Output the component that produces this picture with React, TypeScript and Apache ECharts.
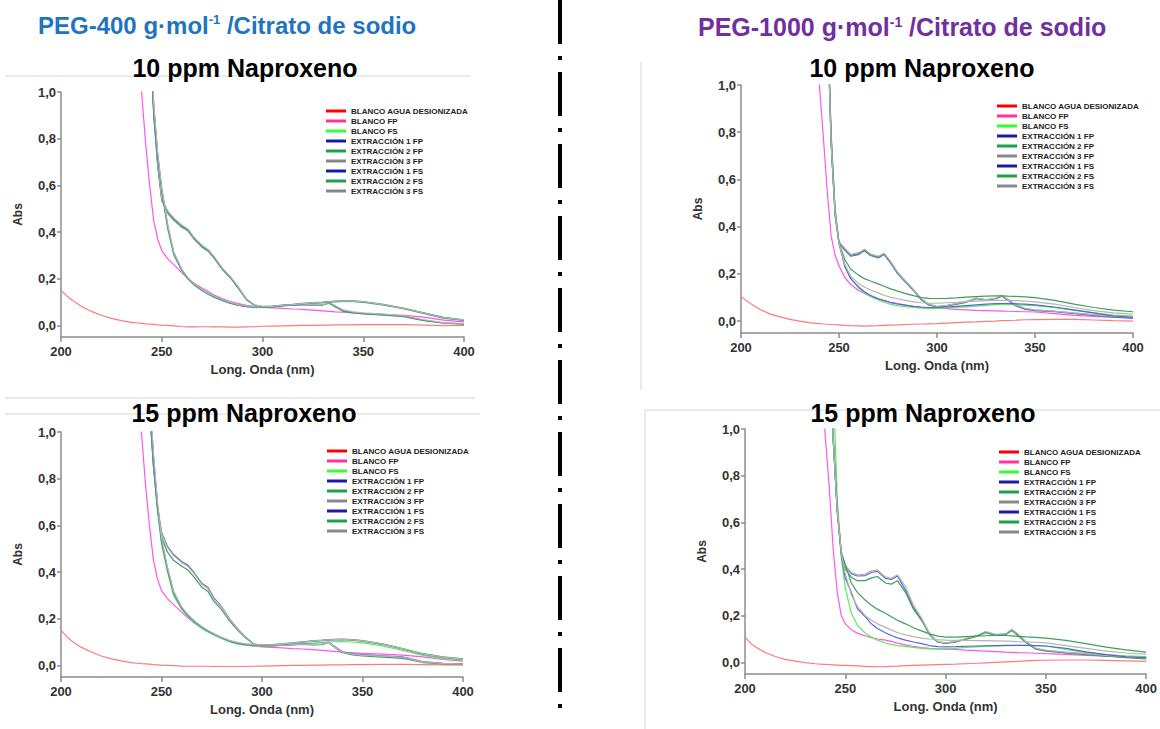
import React, { useEffect, useRef } from 'react';
import * as echarts from 'echarts';

const N = null;

const WAVELENGTH_NM = [200, 203, 206, 210, 215, 220, 225, 230, 235, 238,
  240, 242, 244, 246, 248, 250, 253, 256, 260, 263,
  266, 270, 273, 276, 280, 284, 288, 292, 296, 300,
  305, 310, 315, 320, 325, 330, 333, 336, 340, 345,
  350, 360, 370, 380, 390, 400];

const Y_TICKS = [0, 0.2, 0.4, 0.6, 0.8, 1.0];

const SERIES_NAMES = ['BLANCO AGUA DESIONIZADA', 'BLANCO FP', 'BLANCO FS',
  'EXTRACCIÓN 1 FP', 'EXTRACCIÓN 2 FP', 'EXTRACCIÓN 3 FP',
  'EXTRACCIÓN 1 FS', 'EXTRACCIÓN 2 FS', 'EXTRACCIÓN 3 FS'];
const LEGEND_COLORS = ['#ff0000', '#ff3399', '#33ff33', '#1a1aa8', '#1ba04b', '#888888', '#1a1aa8', '#1ba04b', '#888888'];
const LINE_COLORS = ['#ff7a7a', '#ff55ee', '#55ee55', '#5a63d8', '#3f9f5a', '#b4b4b4', '#5a63d8', '#3f9f5a', '#b4b4b4'];

// ---------- PEG-400, 10 ppm ----------
const A_AGUA = [0.15, 0.125, 0.105, 0.082, 0.06, 0.043, 0.03, 0.02, 0.013, 0.01,
  0.008, 0.006, 0.005, 0.004, 0.002, 0.001, 0, -0.002, -0.005, -0.007,
  -0.007, -0.006, -0.006, -0.007, -0.007, -0.008, -0.008, -0.007, -0.006, -0.004,
  -0.003, -0.002, -0.001, 0, 0, 0.001, 0.001, 0.002, 0.002, 0.002,
  0.003, 0.003, 0.003, 0.001, -0.001, 0];
const A_BFP = [N, N, N, N, N, N, N, N, N, 1.2,
  1.0, 0.78, 0.6, 0.45, 0.37, 0.32, 0.285, 0.26, 0.225, 0.2,
  0.18, 0.16, 0.145, 0.13, 0.115, 0.102, 0.093, 0.086, 0.08, 0.077,
  0.075, 0.073, 0.07, 0.068, 0.065, 0.062, 0.06, 0.058, 0.056, 0.053,
  0.05, 0.047, 0.043, 0.035, 0.022, 0.015];
const A_BFS = [N, N, N, N, N, N, N, N, N, N,
  N, N, 1.3, 0.93, 0.73, 0.57, 0.41, 0.3, 0.232, 0.198,
  0.172, 0.148, 0.132, 0.12, 0.106, 0.094, 0.085, 0.08, 0.077, 0.076,
  0.078, 0.082, 0.086, 0.09, 0.093, 0.096, 0.098, 0.1, 0.102, 0.101,
  0.098, 0.086, 0.07, 0.05, 0.03, 0.02];
const A_E1FP = [N, N, N, N, N, N, N, N, N, N,
  N, N, 1.3, 0.9, 0.68, 0.54, 0.485, 0.455, 0.425, 0.41,
  0.375, 0.34, 0.322, 0.292, 0.243, 0.207, 0.162, 0.112, 0.087, 0.08,
  0.08, 0.085, 0.088, 0.09, 0.087, 0.088, 0.097, 0.083, 0.063, 0.056,
  0.051, 0.046, 0.039, 0.022, 0.01, 0.006];
const A_E2FP = [N, N, N, N, N, N, N, N, N, N,
  N, N, 1.3, 0.92, 0.69, 0.535, 0.48, 0.45, 0.42, 0.405,
  0.37, 0.335, 0.318, 0.288, 0.24, 0.204, 0.158, 0.11, 0.086, 0.079,
  0.079, 0.084, 0.087, 0.089, 0.086, 0.087, 0.095, 0.08, 0.06, 0.053,
  0.049, 0.044, 0.037, 0.02, 0.009, 0.005];
const A_E3FP = [N, N, N, N, N, N, N, N, N, N,
  N, N, 1.35, 0.95, 0.7, 0.545, 0.49, 0.46, 0.43, 0.413,
  0.378, 0.343, 0.325, 0.295, 0.246, 0.21, 0.165, 0.114, 0.088, 0.081,
  0.081, 0.086, 0.089, 0.091, 0.088, 0.089, 0.098, 0.085, 0.066, 0.058,
  0.053, 0.048, 0.041, 0.024, 0.012, 0.007];
const A_E1FS = [N, N, N, N, N, N, N, N, N, N,
  N, N, 1.25, 0.92, 0.72, 0.58, 0.42, 0.305, 0.236, 0.2,
  0.175, 0.15, 0.135, 0.122, 0.108, 0.095, 0.086, 0.08, 0.078, 0.078,
  0.08, 0.085, 0.088, 0.092, 0.095, 0.098, 0.1, 0.102, 0.104, 0.103,
  0.1, 0.088, 0.072, 0.052, 0.032, 0.022];
const A_E2FS = [N, N, N, N, N, N, N, N, N, N,
  N, N, 1.28, 0.94, 0.73, 0.585, 0.425, 0.31, 0.238, 0.202,
  0.177, 0.152, 0.137, 0.124, 0.11, 0.097, 0.088, 0.082, 0.08, 0.08,
  0.082, 0.087, 0.09, 0.094, 0.097, 0.1, 0.102, 0.104, 0.106, 0.105,
  0.102, 0.09, 0.074, 0.054, 0.034, 0.024];
const A_E3FS = [N, N, N, N, N, N, N, N, N, N,
  N, N, 1.3, 0.95, 0.74, 0.59, 0.43, 0.312, 0.24, 0.204,
  0.178, 0.153, 0.138, 0.125, 0.111, 0.098, 0.089, 0.083, 0.08, 0.079,
  0.081, 0.086, 0.089, 0.093, 0.096, 0.099, 0.101, 0.103, 0.105, 0.104,
  0.101, 0.089, 0.073, 0.053, 0.033, 0.023];

// ---------- PEG-1000, 10 ppm ----------
const B_AGUA = [0.105, 0.085, 0.068, 0.048, 0.03, 0.018, 0.008, 0.0, -0.006, -0.009,
  -0.01, -0.012, -0.013, -0.014, -0.015, -0.016, -0.018, -0.019, -0.02, -0.021,
  -0.02, -0.019, -0.018, -0.017, -0.016, -0.014, -0.013, -0.012, -0.011, -0.01,
  -0.008, -0.006, -0.004, -0.003, -0.001, 0.0, 0.002, 0.003, 0.004, 0.006,
  0.007, 0.008, 0.008, 0.005, 0.002, 0.0];
const B_BFP = [N, N, N, N, N, N, N, N, N, 1.3,
  1.0, 0.78, 0.55, 0.36, 0.28, 0.235, 0.185, 0.155, 0.13, 0.117,
  0.106, 0.095, 0.087, 0.08, 0.073, 0.067, 0.062, 0.059, 0.057, 0.055,
  0.053, 0.05, 0.048, 0.046, 0.045, 0.044, 0.043, 0.042, 0.041, 0.04,
  0.039, 0.032, 0.025, 0.02, 0.016, 0.013];
const B_BFS = [N, N, N, N, N, N, N, N, N, N,
  N, N, 1.3, 0.8, 0.48, 0.33, 0.24, 0.18, 0.14, 0.12,
  0.105, 0.09, 0.08, 0.072, 0.066, 0.062, 0.058, 0.055, 0.054, 0.054,
  0.056, 0.058, 0.061, 0.064, 0.067, 0.07, 0.071, 0.071, 0.07, 0.068,
  0.066, 0.057, 0.046, 0.035, 0.026, 0.022];
const B_E1FP = [N, N, N, N, N, N, N, N, N, N,
  N, N, 1.3, 0.75, 0.45, 0.33, 0.3, 0.275, 0.282, 0.298,
  0.278, 0.268, 0.282, 0.25, 0.2, 0.165, 0.13, 0.09, 0.068, 0.06,
  0.064, 0.072, 0.08, 0.095, 0.088, 0.095, 0.106, 0.09, 0.066, 0.05,
  0.045, 0.04, 0.032, 0.025, 0.018, 0.013];
const B_E2FP = [N, N, N, N, N, N, N, N, N, N,
  N, N, 1.32, 0.76, 0.455, 0.335, 0.305, 0.28, 0.286, 0.302,
  0.282, 0.272, 0.285, 0.254, 0.204, 0.168, 0.133, 0.093, 0.07, 0.062,
  0.066, 0.074, 0.082, 0.097, 0.09, 0.097, 0.108, 0.093, 0.069, 0.053,
  0.047, 0.042, 0.034, 0.027, 0.02, 0.015];
const B_E3FP = [N, N, N, N, N, N, N, N, N, N,
  N, N, 1.35, 0.78, 0.46, 0.338, 0.308, 0.283, 0.29, 0.305,
  0.285, 0.275, 0.288, 0.257, 0.207, 0.17, 0.135, 0.095, 0.072, 0.063,
  0.067, 0.075, 0.083, 0.098, 0.091, 0.098, 0.109, 0.094, 0.07, 0.054,
  0.048, 0.043, 0.035, 0.028, 0.021, 0.016];
const B_E1FS = [N, N, N, N, N, N, N, N, N, N,
  N, N, 1.3, 0.78, 0.47, 0.33, 0.23, 0.18, 0.145, 0.125,
  0.11, 0.095, 0.087, 0.08, 0.073, 0.068, 0.063, 0.06, 0.058, 0.058,
  0.06, 0.063, 0.066, 0.069, 0.072, 0.074, 0.075, 0.075, 0.074, 0.072,
  0.069, 0.06, 0.048, 0.035, 0.022, 0.016];
const B_E2FS = [N, N, N, N, N, N, N, N, N, N,
  N, N, 1.3, 0.75, 0.45, 0.33, 0.26, 0.22, 0.195, 0.18,
  0.17, 0.158, 0.148, 0.138, 0.127, 0.117, 0.108, 0.1, 0.097, 0.096,
  0.097, 0.099, 0.102, 0.104, 0.106, 0.107, 0.107, 0.106, 0.105, 0.103,
  0.1, 0.088, 0.072, 0.058, 0.047, 0.04];
const B_E3FS = [N, N, N, N, N, N, N, N, N, N,
  N, N, 1.3, 0.76, 0.46, 0.33, 0.24, 0.19, 0.16, 0.145,
  0.132, 0.12, 0.11, 0.102, 0.095, 0.088, 0.082, 0.078, 0.076, 0.076,
  0.078, 0.08, 0.083, 0.085, 0.087, 0.088, 0.088, 0.088, 0.087, 0.085,
  0.082, 0.072, 0.058, 0.045, 0.035, 0.03];

// ---------- PEG-400, 15 ppm ----------
const C_AGUA = [0.15, 0.122, 0.1, 0.078, 0.057, 0.04, 0.028, 0.019, 0.012, 0.009,
  0.007, 0.006, 0.005, 0.003, 0.002, 0.001, 0, -0.001, -0.003, -0.004,
  -0.004, -0.004, -0.004, -0.005, -0.005, -0.005, -0.005, -0.005, -0.004, -0.003,
  -0.002, -0.001, 0, 0, 0.001, 0.001, 0.002, 0.002, 0.002, 0.003,
  0.003, 0.004, 0.004, 0.003, 0.002, 0.001];
const C_BFP = [N, N, N, N, N, N, N, N, N, 1.2,
  1.0, 0.78, 0.6, 0.45, 0.37, 0.32, 0.285, 0.26, 0.228, 0.205,
  0.183, 0.163, 0.148, 0.133, 0.118, 0.105, 0.095, 0.088, 0.082, 0.079,
  0.077, 0.075, 0.072, 0.07, 0.067, 0.064, 0.062, 0.06, 0.057, 0.054,
  0.051, 0.048, 0.044, 0.036, 0.025, 0.018];
const C_BFS = [N, N, N, N, N, N, N, N, N, N,
  N, N, 1.12, 0.86, 0.66, 0.52, 0.4, 0.3, 0.24, 0.21,
  0.185, 0.158, 0.143, 0.13, 0.114, 0.1, 0.091, 0.086, 0.083, 0.082,
  0.082, 0.085, 0.088, 0.092, 0.095, 0.098, 0.1, 0.101, 0.102, 0.1,
  0.096, 0.083, 0.064, 0.043, 0.03, 0.022];
const C_E1FP = [N, N, N, N, N, N, N, N, N, N,
  N, N, 1.1, 0.85, 0.68, 0.57, 0.51, 0.475, 0.445, 0.43,
  0.4, 0.352, 0.335, 0.29, 0.25, 0.197, 0.156, 0.12, 0.092, 0.085,
  0.085, 0.088, 0.09, 0.092, 0.09, 0.091, 0.1, 0.082, 0.058, 0.05,
  0.046, 0.041, 0.036, 0.016, 0.009, 0.006];
const C_E2FP = [N, N, N, N, N, N, N, N, N, N,
  N, N, 1.12, 0.86, 0.67, 0.55, 0.485, 0.45, 0.425, 0.41,
  0.38, 0.335, 0.318, 0.275, 0.238, 0.188, 0.15, 0.116, 0.09, 0.083,
  0.083, 0.086, 0.088, 0.09, 0.088, 0.089, 0.098, 0.078, 0.054, 0.045,
  0.04, 0.035, 0.03, 0.012, 0.006, 0.004];
const C_E3FP = [N, N, N, N, N, N, N, N, N, N,
  N, N, 1.15, 0.88, 0.69, 0.565, 0.505, 0.47, 0.44, 0.425,
  0.395, 0.348, 0.33, 0.286, 0.247, 0.195, 0.155, 0.119, 0.092, 0.085,
  0.084, 0.087, 0.089, 0.091, 0.089, 0.09, 0.099, 0.08, 0.056, 0.048,
  0.044, 0.04, 0.034, 0.015, 0.008, 0.005];
const C_E1FS = [N, N, N, N, N, N, N, N, N, N,
  N, N, 1.15, 0.88, 0.68, 0.53, 0.41, 0.31, 0.245, 0.215,
  0.19, 0.163, 0.147, 0.133, 0.117, 0.103, 0.094, 0.089, 0.087, 0.086,
  0.087, 0.09, 0.094, 0.099, 0.103, 0.106, 0.108, 0.109, 0.11, 0.108,
  0.104, 0.09, 0.07, 0.048, 0.034, 0.026];
const C_E2FS = [N, N, N, N, N, N, N, N, N, N,
  N, N, 1.18, 0.9, 0.69, 0.54, 0.415, 0.315, 0.248, 0.217,
  0.192, 0.165, 0.149, 0.135, 0.119, 0.105, 0.096, 0.091, 0.089, 0.088,
  0.089, 0.092, 0.096, 0.101, 0.105, 0.108, 0.11, 0.111, 0.112, 0.11,
  0.106, 0.092, 0.072, 0.05, 0.036, 0.028];
const C_E3FS = [N, N, N, N, N, N, N, N, N, N,
  N, N, 1.2, 0.91, 0.7, 0.545, 0.42, 0.318, 0.25, 0.219,
  0.193, 0.166, 0.15, 0.136, 0.12, 0.106, 0.097, 0.092, 0.089, 0.088,
  0.088, 0.091, 0.095, 0.1, 0.104, 0.107, 0.109, 0.11, 0.111, 0.109,
  0.105, 0.091, 0.071, 0.049, 0.035, 0.027];

// ---------- PEG-1000, 15 ppm ----------
const D_AGUA = [0.109, 0.08, 0.062, 0.042, 0.025, 0.013, 0.005, -0.001, -0.006, -0.008,
  -0.009, -0.01, -0.011, -0.012, -0.013, -0.013, -0.014, -0.015, -0.017, -0.018,
  -0.019, -0.018, -0.017, -0.016, -0.014, -0.013, -0.012, -0.011, -0.01, -0.009,
  -0.008, -0.006, -0.004, -0.002, 0.0, 0.002, 0.003, 0.004, 0.006, 0.008,
  0.009, 0.01, 0.01, 0.008, 0.006, 0.004];
const D_BFP = [N, N, N, N, N, N, N, N, N, 1.3,
  0.97, 0.75, 0.48, 0.3, 0.2, 0.165, 0.14, 0.125, 0.113, 0.106,
  0.1, 0.095, 0.09, 0.082, 0.075, 0.068, 0.063, 0.06, 0.058, 0.057,
  0.055, 0.052, 0.05, 0.048, 0.046, 0.044, 0.043, 0.042, 0.041, 0.039,
  0.037, 0.034, 0.03, 0.027, 0.024, 0.022];
const D_BFS = [N, N, N, N, N, N, N, N, N, N,
  N, N, 1.2, 0.7, 0.45, 0.32, 0.21, 0.16, 0.124, 0.108,
  0.095, 0.083, 0.077, 0.072, 0.068, 0.064, 0.06, 0.058, 0.058, 0.058,
  0.06, 0.064, 0.066, 0.068, 0.07, 0.071, 0.072, 0.073, 0.073, 0.072,
  0.07, 0.055, 0.042, 0.033, 0.028, 0.025];
const D_E1FP = [N, N, N, N, N, N, N, N, N, N,
  N, 1.3, 0.95, 0.65, 0.47, 0.41, 0.38, 0.37, 0.372, 0.385,
  0.39, 0.36, 0.355, 0.37, 0.31, 0.235, 0.185, 0.12, 0.088, 0.082,
  0.088, 0.1, 0.112, 0.13, 0.118, 0.12, 0.14, 0.12, 0.088, 0.058,
  0.05, 0.042, 0.035, 0.028, 0.022, 0.017];
const D_E2FP = [N, N, N, N, N, N, N, N, N, N,
  N, 1.3, 0.96, 0.66, 0.47, 0.4, 0.365, 0.35, 0.35, 0.362,
  0.368, 0.34, 0.335, 0.35, 0.3, 0.228, 0.18, 0.118, 0.086, 0.082,
  0.087, 0.098, 0.11, 0.127, 0.115, 0.118, 0.136, 0.115, 0.085, 0.056,
  0.048, 0.04, 0.033, 0.026, 0.02, 0.015];
const D_E3FP = [N, N, N, N, N, N, N, N, N, N,
  N, 1.35, 0.98, 0.67, 0.48, 0.415, 0.385, 0.375, 0.378, 0.392,
  0.396, 0.366, 0.36, 0.375, 0.325, 0.245, 0.19, 0.124, 0.089, 0.084,
  0.09, 0.102, 0.114, 0.132, 0.12, 0.123, 0.142, 0.122, 0.09, 0.06,
  0.052, 0.044, 0.037, 0.03, 0.024, 0.019];
const D_E1FS = [N, N, N, N, N, N, N, N, N, N,
  N, 1.3, 0.95, 0.64, 0.46, 0.36, 0.3, 0.23, 0.195, 0.165,
  0.145, 0.127, 0.115, 0.105, 0.095, 0.087, 0.08, 0.072, 0.067, 0.066,
  0.067, 0.069, 0.07, 0.071, 0.072, 0.073, 0.073, 0.073, 0.073, 0.072,
  0.07, 0.06, 0.045, 0.033, 0.024, 0.02];
const D_E2FS = [N, N, N, N, N, N, N, N, N, N,
  N, 1.3, 0.95, 0.65, 0.47, 0.42, 0.34, 0.3, 0.266, 0.245,
  0.228, 0.21, 0.195, 0.18, 0.165, 0.148, 0.135, 0.122, 0.112, 0.108,
  0.108, 0.11, 0.112, 0.114, 0.116, 0.115, 0.113, 0.111, 0.109, 0.107,
  0.104, 0.094, 0.08, 0.065, 0.053, 0.044];
const D_E3FS = [N, N, N, N, N, N, N, N, N, N,
  N, 1.3, 0.95, 0.65, 0.47, 0.38, 0.29, 0.24, 0.2, 0.18,
  0.165, 0.15, 0.138, 0.128, 0.118, 0.11, 0.104, 0.1, 0.097, 0.095,
  0.094, 0.094, 0.093, 0.093, 0.092, 0.091, 0.09, 0.089, 0.088, 0.086,
  0.083, 0.072, 0.06, 0.048, 0.04, 0.035];

const PANEL_DATA = [
  [A_AGUA, A_BFP, A_BFS, A_E1FP, A_E2FP, A_E3FP, A_E1FS, A_E2FS, A_E3FS],
  [B_AGUA, B_BFP, B_BFS, B_E1FP, B_E2FP, B_E3FP, B_E1FS, B_E2FS, B_E3FS],
  [C_AGUA, C_BFP, C_BFS, C_E1FP, C_E2FP, C_E3FP, C_E1FS, C_E2FS, C_E3FS],
  [D_AGUA, D_BFP, D_BFS, D_E1FP, D_E2FP, D_E3FP, D_E1FS, D_E2FS, D_E3FS],
];

// layout (pixels)
const GRIDS = [
  { left: 61, top: 92, width: 403, height: 245 },
  { left: 741, top: 85, width: 392, height: 248 },
  { left: 61, top: 432, width: 402, height: 245 },
  { left: 745, top: 429, width: 402, height: 245 },
];
const LEGEND_POS = [
  { left: 326, top: 106 },
  { left: 997, top: 101 },
  { left: 327, top: 446 },
  { left: 999, top: 447 },
];

const FONT = 'Arial, "Liberation Sans", Helvetica, sans-serif';
const AXIS_COLOR = '#8c8c8c';
const LABEL_COLOR = '#333333';

function fmt(v: number) {
  return v.toFixed(1).replace('.', ',');
}

function buildOption() {
  const series: any[] = [];
  PANEL_DATA.forEach((arrs, p) => {
    arrs.forEach((arr, k) => {
      const data: any[] = [];
      WAVELENGTH_NM.forEach((w, i) => {
        if (arr[i] !== null && arr[i] !== undefined) data.push([w, arr[i]]);
      });
      series.push({
        type: 'line',
        name: SERIES_NAMES[k],
        xAxisIndex: p,
        yAxisIndex: p,
        data,
        symbol: 'none',
        showSymbol: false,
        smooth: false,
        clip: true,
        itemStyle: { color: LEGEND_COLORS[k] },
        lineStyle: { color: LINE_COLORS[k], width: 1.2 },
        emphasis: { disabled: true },
      });
    });
  });

  const xAxis = GRIDS.map((_, p) => ({
    gridIndex: p,
    type: 'value',
    min: 200,
    max: 400,
    interval: 50,
    name: 'Long. Onda (nm)',
    nameLocation: 'middle',
    nameGap: 26,
    nameTextStyle: { fontSize: 13, fontWeight: 'bold', color: LABEL_COLOR, fontFamily: FONT },
    axisLine: { onZero: false, lineStyle: { color: AXIS_COLOR, width: 1.5 } },
    axisTick: { length: 5, lineStyle: { color: AXIS_COLOR, width: 1.5 } },
    axisLabel: { fontSize: 13, fontWeight: 'bold', color: LABEL_COLOR, margin: 8, fontFamily: FONT },
    splitLine: { show: false },
  }));

  const yAxis = GRIDS.map((_, p) => ({
    gridIndex: p,
    type: 'value',
    min: -0.05,
    max: 1.0,
    name: 'Abs',
    nameLocation: 'middle',
    nameGap: 37,
    nameRotate: 90,
    nameTextStyle: { fontSize: 12, fontWeight: 'bold', color: LABEL_COLOR, fontFamily: FONT },
    axisLine: { onZero: false, lineStyle: { color: AXIS_COLOR, width: 1.5 } },
    axisTick: { length: 4, customValues: Y_TICKS, lineStyle: { color: AXIS_COLOR, width: 1.5 } },
    axisLabel: {
      customValues: Y_TICKS,
      formatter: (v: number) => fmt(v),
      fontSize: 13, fontWeight: 'bold', color: LABEL_COLOR, margin: 5, fontFamily: FONT,
    },
    splitLine: { show: false },
  }));

  const legend = LEGEND_POS.map((pos) => ({
    orient: 'vertical',
    left: pos.left,
    top: pos.top,
    padding: 0,
    itemGap: 0,
    itemWidth: 20,
    itemHeight: 3,
    icon: 'rect',
    selectedMode: false,
    data: SERIES_NAMES.map((n, i) => ({ name: n, icon: 'rect', itemStyle: { color: LEGEND_COLORS[i], opacity: 1 } })),
    textStyle: { fontSize: 8, fontWeight: 'bold', color: '#222', lineHeight: 10, fontFamily: FONT },
  }));

  const titleStyle = (color: string, size: number) => ({
    a: { fontSize: size, fontWeight: 'bold', fill: color, fontFamily: FONT },
    s: { fontSize: Math.round(size * 0.55), fontWeight: 'bold', fill: color, fontFamily: FONT, verticalAlign: 'top' },
  });

  const subTitle = (text: string, x: number, y: number) => ({
    type: 'text',
    x, y,
    z: 10,
    style: {
      text,
      fill: '#000',
      font: `bold 25px ${FONT}`,
      textAlign: 'center',
      textVerticalAlign: 'middle',
    },
  });

  const frame = (x1: number, y1: number, x2: number, y2: number) => ({
    type: 'line',
    z: 1,
    shape: { x1, y1, x2, y2 },
    style: { stroke: '#d6d6d6', lineWidth: 1 },
  });

  const graphic = [
    frame(5, 76, 470, 76),
    frame(5, 398, 475, 398),
    frame(5, 414, 480, 414),
    frame(641, 62, 641, 390),
    frame(645, 410, 1160, 410),
    frame(645, 410, 645, 729),
    {
      type: 'line', z: 5,
      shape: { x1: 560, y1: 0, x2: 560, y2: 716 },
      style: { stroke: '#000', lineWidth: 4, lineDash: [44, 12, 4, 12] },
    },
    {
      type: 'text', x: 38, y: 25, z: 10,
      style: {
        text: '{a|PEG-400 g·mol}{s|-1}{a| /Citrato de sodio}',
        rich: titleStyle('#1f74c2', 24),
        textVerticalAlign: 'middle',
      },
    },
    {
      type: 'text', x: 698, y: 27, z: 10,
      style: {
        text: '{a|PEG-1000 g·mol}{s|-1}{a| /Citrato de sodio}',
        rich: titleStyle('#7030a0', 25),
        textVerticalAlign: 'middle',
      },
    },
    subTitle('10 ppm Naproxeno', 245, 68),
    subTitle('10 ppm Naproxeno', 922, 68),
    subTitle('15 ppm Naproxeno', 244, 413),
    subTitle('15 ppm Naproxeno', 923, 413),
  ];

  return {
    animation: false,
    backgroundColor: '#ffffff',
    textStyle: { fontFamily: FONT },
    grid: GRIDS.map((g) => ({ ...g, containLabel: false })),
    xAxis,
    yAxis,
    legend,
    series,
    graphic,
  };
}

export default function App() {
  const ref = useRef<HTMLDivElement>(null);
  useEffect(() => {
    if (!ref.current) return;
    const chart = echarts.init(ref.current, undefined, { renderer: 'svg' });
    chart.setOption(buildOption() as any);
    return () => chart.dispose();
  }, []);
  return (
    <div
      ref={ref}
      style={{ position: 'absolute', left: 0, top: 0, width: 1160, height: 729, background: '#fff' }}
    />
  );
}
